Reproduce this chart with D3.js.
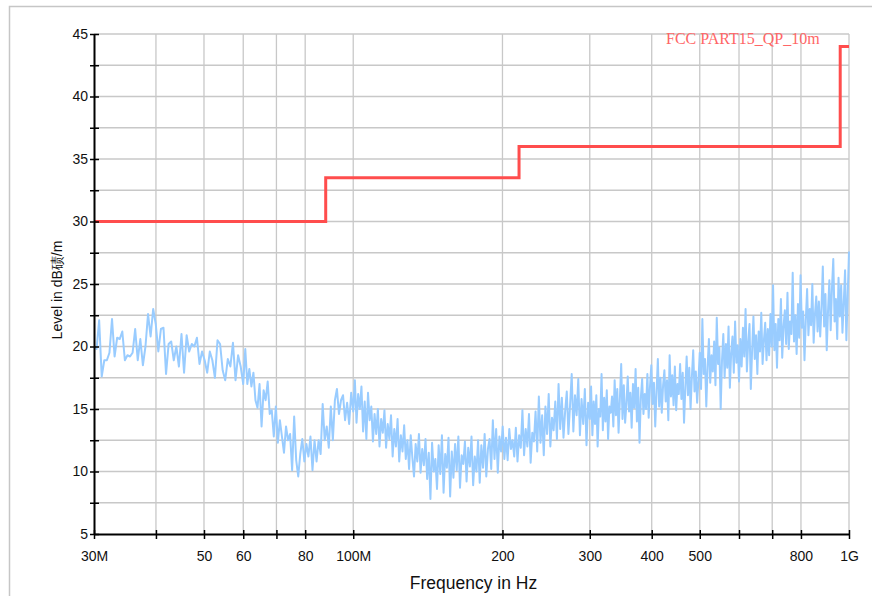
<!DOCTYPE html>
<html>
<head>
<meta charset="utf-8">
<script src="https://cdn.jsdelivr.net/npm/d3@7"></script>
<style>
  body { margin: 0; background: #fff; }
  svg { display: block; font-family: "Liberation Sans", Arial, sans-serif; }
</style>
</head>
<body>
<div id="chart"></div>
<script>
// limit line (FCC part 15, QP, 10 m)
const limitEdgesMHz = [30, 88, 216, 960, 1000];
const limitLevels = [30, 33.5, 36, 44];

const bandEdgesMHz = [30, 60, 100, 300, 1000];
const band1Level = [
  20.0, 19.8, 22.1, 17.6, 18.9, 18.9, 19.5, 22.2, 19.2, 20.7,
  20.6, 21.2, 18.9, 19.3, 19.2, 19.5, 21.4, 18.9, 20.6, 18.5,
  20.0, 22.6, 20.8, 23.0, 21.8, 19.6, 21.4, 21.5, 17.8, 20.2,
  20.4, 18.9, 20.0, 18.4, 21.0, 17.9, 20.9, 19.6, 20.2, 20.0,
  20.7, 18.6, 19.6, 18.9, 17.9, 19.6, 18.9, 17.5, 20.5, 20.2,
  18.1, 17.3, 19.0, 18.4, 20.3, 17.3, 19.3, 18.4
];
const band2Level = [
  17.0, 19.8, 17.0, 18.2, 16.8, 17.9, 15.7, 15.1, 17.0, 13.6,
  16.5, 15.7, 17.2, 14.6, 14.9, 12.8, 15.2, 12.3, 14.1, 12.8,
  11.5, 13.6, 12.5, 13.0, 10.1, 14.4, 10.9, 9.6, 11.4, 12.6,
  10.8, 12.2, 11.2, 12.8, 10.1, 12.5, 10.8, 12.5, 11.4, 15.4,
  12.5, 13.6, 11.9, 15.2, 12.5, 15.7, 16.6, 14.6, 15.7, 16.1,
  14.1, 15.5, 13.8, 16.3
];
const band3Level = [
  14.8, 17.3, 13.9, 16.2, 15.0, 16.8,
  13.2, 15.6, 12.6, 16.3, 14.1, 15.2,
  12.4, 14.6, 13.0, 15.0, 12.0, 14.2, 13.1, 14.9, 11.9, 13.8, 12.6, 14.5,
  11.2, 13.4, 12.0, 14.2, 10.8, 12.9, 11.6, 13.7, 11.0,
  12.5, 10.2, 12.9, 11.1, 9.6, 12.2, 10.8, 13.0, 9.9, 11.8, 10.5, 12.6,
  9.4, 11.5, 7.8, 12.3, 10.0, 11.0, 8.6, 12.1,
  9.8, 12.9, 8.3, 11.4, 10.3, 12.7, 8.0, 11.6, 9.5, 12.2,
  10.1, 12.8, 8.7, 11.3, 10.6, 12.4, 9.2, 11.9, 10.4, 12.8, 8.9, 11.2, 10.0, 12.5,
  9.1, 12.1, 10.3, 13.0, 9.6, 11.8,
  12.6, 10.2, 14.1, 11.0, 13.4, 9.9, 12.8, 11.6,
  13.6, 11.0, 12.7, 10.9, 13.4, 11.8, 12.5, 11.2, 13.5, 10.8, 12.9, 11.9,
  14.9, 11.3, 13.4, 12.0, 14.6, 10.7, 13.1, 12.4, 14.8, 11.6,
  16.0, 12.3, 14.5, 11.3, 15.2, 13.0, 16.2, 12.0, 14.3, 13.3,
  15.6, 12.6, 17.0, 13.4, 15.9, 12.7, 14.8, 16.4, 13.0, 15.3,
  17.8, 13.2, 16.1, 14.5, 17.4, 12.9, 15.8, 13.8, 16.6, 12.1, 15.5
];
const band4Level = [
  14.2, 16.8, 12.9, 15.6, 13.8, 16.1, 12.0, 15.0, 14.4, 17.8, 13.3, 15.9, 14.0, 16.5, 12.6, 15.2, 14.7,
  16.0, 13.6, 17.3, 14.5, 16.6, 13.1, 15.8, 18.6, 14.2, 16.9, 13.9, 15.4, 17.6,
  14.8, 16.3, 13.5, 17.0, 15.1, 18.2, 14.0, 16.7, 12.3, 15.9, 17.4, 14.6, 16.2,
  15.0, 17.8, 14.3, 16.8, 18.5, 15.4, 17.1, 13.6, 16.4, 19.0, 15.2, 17.5, 14.7,
  16.9, 18.1, 15.6, 17.3, 14.1, 19.3, 16.0, 17.7, 15.3, 18.4, 14.9, 17.0, 16.2,
  18.6, 15.8, 17.9, 13.9, 16.7, 19.2, 16.1, 18.3, 15.0, 17.6, 19.7, 16.4, 18.0, 15.5, 17.3,
  19.5, 16.6, 22.2, 17.8, 19.0, 15.2, 18.4, 20.6, 17.1, 19.3,
  18.0, 20.4, 16.9, 22.3, 18.6, 19.9, 15.0, 18.9, 21.0, 17.5, 20.2,
  18.3, 21.6, 16.7, 19.5, 20.8, 17.9, 22.0, 18.7, 20.1, 17.2,
  20.6, 18.4, 21.5, 19.2, 23.0, 18.0, 20.3, 21.8, 16.6, 19.7, 22.4,
  19.0, 20.9, 17.8, 21.2, 19.6, 22.7, 18.6, 20.5, 21.9, 18.9,
  21.4, 19.3, 22.6, 20.0, 24.9, 19.7, 21.8, 18.3, 22.2, 20.5, 23.8, 19.1,
  21.6, 22.9, 20.2, 24.3, 19.8, 22.0, 21.0, 25.9, 20.4, 22.5, 19.4,
  23.4, 20.7, 25.7, 21.5, 22.8, 18.9, 22.1, 24.6, 20.9, 23.0, 21.7, 25.0,
  20.3, 22.6, 24.0, 21.2, 23.6, 20.8,
  23.1, 26.4, 21.6, 24.2, 19.7, 22.9, 25.3, 21.3, 24.7, 27.0, 22.0,
  23.8, 20.6, 25.5, 22.4, 24.9, 21.1, 23.5, 26.1, 20.5, 24.0, 27.6
];

// axis ticks
const xTickMHz = [30, 40, 50, 60, 70, 80, 100, 200, 300, 400, 500, 600, 700, 800, 1000];
const xTickLabels = { 30: "30M", 50: "50", 60: "60", 80: "80", 100: "100M", 200: "200",
  300: "300", 400: "400", 500: "500", 800: "800", 1000: "1G" };
const yTicks = [5, 7.5, 10, 12.5, 15, 17.5, 20, 22.5, 25, 27.5, 30, 32.5, 35, 37.5, 40, 42.5, 45];

const limitName = "FCC PART15_QP_10m";
const xTitle = "Frequency in Hz";
const yTitle = "Level in dB碛/m";

const width = 872, height = 596;
const margin = { top: 34, right: 23, bottom: 62, left: 94 };

const svg = d3.select("#chart").append("svg")
  .attr("width", width)
  .attr("height", height);

svg.append("rect")
  .attr("width", width).attr("height", height)
  .attr("fill", "#fff");

// outer frame
svg.append("rect")
  .attr("x", 9.5).attr("y", 6.5)
  .attr("width", 900).attr("height", 700)
  .attr("fill", "none")
  .attr("stroke", "#c6c6c6")
  .attr("stroke-width", 1.5);

const x = d3.scaleLog()
  .domain([30e6, 1e9])
  .range([margin.left, width - margin.right]);

const y = d3.scaleLinear()
  .domain([5, 45])
  .range([height - margin.bottom, margin.top]);

// grid
const grid = svg.append("g").attr("stroke", "#c8c8c8").attr("stroke-width", 1.3);
grid.selectAll(".vgrid")
  .data(xTickMHz.filter(d => d > 30))
  .enter().append("line")
  .attr("x1", d => x(d * 1e6)).attr("x2", d => x(d * 1e6))
  .attr("y1", y(5)).attr("y2", y(45));
grid.selectAll(".hgrid")
  .data(yTicks.filter(d => d > 5))
  .enter().append("line")
  .attr("x1", x(30e6)).attr("x2", x(1e9))
  .attr("y1", d => y(d)).attr("y2", d => y(d));

// build trace points from the bands
const bands = [band1Level, band2Level, band3Level, band4Level];
const trace = [];
bands.forEach((levels, b) => {
  const lo = bandEdgesMHz[b], hi = bandEdgesMHz[b + 1];
  const last = b === bands.length - 1;
  const n = last ? levels.length - 1 : levels.length;
  levels.forEach((v, i) => {
    trace.push({ f: lo * Math.pow(hi / lo, i / n) * 1e6, v: v });
  });
});

svg.append("path")
  .datum(trace)
  .attr("fill", "none")
  .attr("stroke", "#99ccff")
  .attr("stroke-width", 2)
  .attr("stroke-linejoin", "round")
  .attr("d", d3.line().x(d => x(d.f)).y(d => y(d.v)));

// limit line
const limitPts = limitEdgesMHz.map((f, i) => ({
  f: f * 1e6,
  v: limitLevels[Math.min(i, limitLevels.length - 1)]
}));
svg.append("path")
  .datum(limitPts)
  .attr("fill", "none")
  .attr("stroke", "#ff4d4d")
  .attr("stroke-width", 3)
  .attr("d", d3.line().curve(d3.curveStepAfter).x(d => x(d.f)).y(d => y(d.v)));

svg.append("text")
  .attr("x", 666).attr("y", 44)
  .attr("fill", "#ff6666")
  .style("font-family", "'Liberation Serif', 'DejaVu Serif', serif")
  .style("font-size", "16px")
  .text(limitName);

// axes
const xAxis = svg.append("g")
  .attr("transform", `translate(0,${y(5)})`)
  .call(d3.axisBottom(x)
    .tickValues(xTickMHz.map(d => d * 1e6))
    .tickFormat(d => xTickLabels[Math.round(d / 1e6)] || "")
    .tickSizeOuter(0));
xAxis.select(".domain").attr("stroke", "#000").attr("stroke-width", 2);
xAxis.selectAll(".tick line").attr("y1", -4).attr("y2", 5)
  .attr("stroke", "#000").attr("stroke-width", 1.5);
xAxis.selectAll(".tick text").attr("y", 17)
  .style("font-size", "14px").attr("fill", "#111");

const yAxis = svg.append("g")
  .attr("transform", `translate(${x(30e6)},0)`)
  .call(d3.axisLeft(y)
    .tickValues(yTicks)
    .tickFormat(d => d % 5 === 0 ? d : "")
    .tickSizeOuter(0));
yAxis.select(".domain").attr("stroke", "#000").attr("stroke-width", 2);
yAxis.selectAll(".tick line").attr("x1", -4).attr("x2", 5)
  .attr("stroke", "#000").attr("stroke-width", 1.5);
yAxis.selectAll(".tick text").attr("x", -6)
  .style("font-size", "14px").attr("fill", "#111");

// axis titles
svg.append("text")
  .attr("x", (x(30e6) + x(1e9)) / 2 + 2).attr("y", 589)
  .attr("text-anchor", "middle")
  .style("font-size", "17.5px")
  .attr("fill", "#111")
  .text(xTitle);

svg.append("text")
  .attr("transform", `translate(62,290) rotate(-90)`)
  .attr("text-anchor", "middle")
  .style("font-size", "14px")
  .attr("fill", "#111")
  .text(yTitle);
</script>
</body>
</html>
